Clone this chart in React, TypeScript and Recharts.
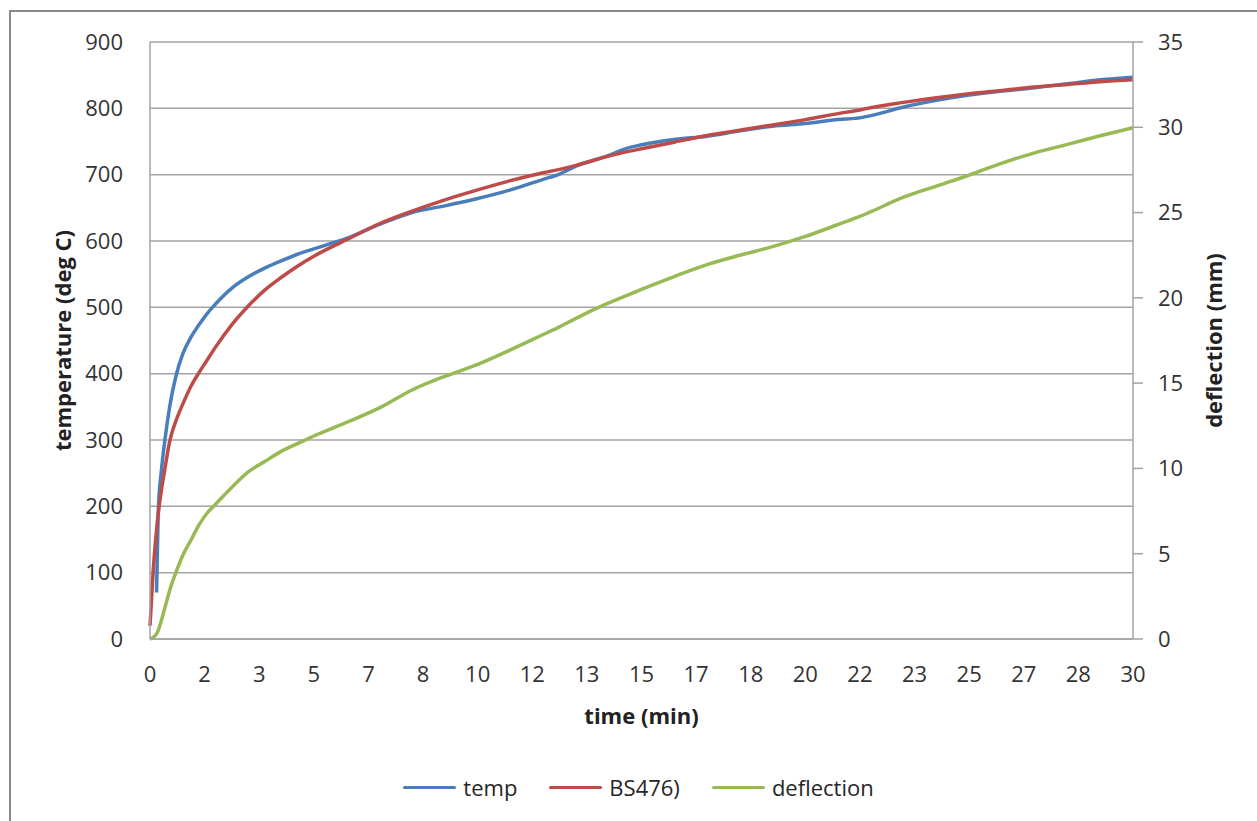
import { LineChart, Line, XAxis, YAxis, CartesianGrid, Legend } from "recharts";

// time in minutes
const timeMin = [0, 0.1, 0.2, 0.25, 0.35, 0.45, 0.6, 0.8, 1, 1.25, 1.5, 1.75, 2, 2.5, 3, 3.5, 4, 4.5, 5, 5.5, 6, 7, 8, 9, 10, 11, 12, 12.5, 13, 14, 14.5, 15, 16, 17, 18, 19, 20, 21, 21.7, 22, 23, 24, 25, 26, 27, 28, 29, 30];
const tempC = [null, null, 70, 190, 255, 298, 350, 398, 430, 455, 474, 491, 505, 529, 546, 559, 570, 580, 588, 596, 604, 625, 643, 653, 664, 677, 693, 701, 713, 729, 739, 745, 753, 758, 766, 773, 777, 783, 786, 789, 802, 812, 820, 826, 831, 837, 843, 847];
const bs476C = [20, 105, 165, 188, 225, 255, 298, 330, 354, 381, 402, 421, 440, 474, 502, 526, 545, 562, 577, 590, 602, 626, 645, 662, 677, 691, 703, 708, 714, 728, 734, 739, 749, 759, 767, 775, 783, 792, 798, 801, 809, 816, 822, 827, 832, 836, 840, 843];
const deflectionMm = [0, 0.1, 0.3, 0.5, 1.1, 1.8, 2.85, 3.95, 4.9, 5.8, 6.7, 7.4, 7.9, 8.9, 9.8, 10.4, 11.0, 11.45, 11.9, 12.3, 12.7, 13.55, 14.6, 15.4, 16.1, 16.95, 17.85, 18.3, 18.8, 19.7, 20.1, 20.5, 21.25, 21.95, 22.5, 23.0, 23.6, 24.3, 24.8, 25.05, 25.9, 26.55, 27.2, 27.9, 28.5, 29.0, 29.5, 29.97];

const xTicks = [0, 1.667, 3.333, 5, 6.667, 8.333, 10, 11.667, 13.333, 15, 16.667, 18.333, 20, 21.667, 23.333, 25, 26.667, 28.333, 30];
const leftTicks = [0, 100, 200, 300, 400, 500, 600, 700, 800, 900];
const rightTicks = [0, 5, 10, 15, 20, 25, 30, 35];
const legendOrder = ["temp", "BS476)", "deflection"];

const data = timeMin.map((t, i) => ({
  t,
  temp: tempC[i],
  bs476: bs476C[i],
  deflection: deflectionMm[i],
}));

const FONT = '"Open Sans", sans-serif';
const GRID = "#a3a3a3";

const renderLegend = (props: any) => {
  const items = [...(props.payload || [])].sort(
    (a: any, b: any) => legendOrder.indexOf(a.value) - legendOrder.indexOf(b.value)
  );
  return (
    <div style={{ display: "flex", justifyContent: "center", alignItems: "center", gap: 32, fontFamily: FONT, fontSize: 22, color: "#262626", lineHeight: "30px" }}>
      {items.map((p: any) => (
        <div key={p.value} style={{ display: "flex", alignItems: "center" }}>
          <span style={{ display: "inline-block", width: 53, height: 3, background: p.color, borderRadius: 2, marginRight: 7 }} />
          {p.value}
        </div>
      ))}
    </div>
  );
};

export default function App() {
  return (
    <div style={{ position: "absolute", left: 0, top: 0, width: 1257, height: 821, background: "#fff", overflow: "hidden" }}>
      <div style={{ position: "absolute", left: 9, top: 10, width: 1400, height: 1000, borderLeft: "2px solid #8a8a8a", borderTop: "2px solid #8a8a8a" }} />
      <LineChart
        width={1257}
        height={821}
        data={data}
        margin={{ top: 42, right: 64, left: 90, bottom: 122 }}
        style={{ position: "absolute", left: 0, top: 0, fontFamily: FONT }}
      >
        <CartesianGrid vertical={false} stroke={GRID} strokeWidth={1.5} yAxisId="left" />
        <XAxis
          dataKey="t"
          type="number"
          domain={[0, 30]}
          ticks={xTicks}
          tickFormatter={(v: number) => String(Math.round(v))}
          tickLine={false}
          axisLine={{ stroke: GRID, strokeWidth: 1.5 }}
          tick={{ fill: "#333", fontSize: 22 }}
          tickMargin={21}
          height={60}
          interval={0}
          label={{
            content: (p: any) => (
              <text x={p.viewBox.x + p.viewBox.width / 2} y={715} textAnchor="middle" dominantBaseline="central" fontWeight="bold" fontSize={22} fill="#222" fontFamily={FONT}>
                time (min)
              </text>
            ),
          }}
        />
        <YAxis
          yAxisId="left"
          domain={[0, 900]}
          ticks={leftTicks}
          tickLine={false}
          axisLine={{ stroke: GRID, strokeWidth: 1.5 }}
          tick={{ fill: "#333", fontSize: 22 }}
          tickMargin={21}
          width={60}
          interval={0}
          label={{
            content: (p: any) => {
              const cy = p.viewBox.y + p.viewBox.height / 2;
              return (
                <text x={62} y={cy} transform={`rotate(-90, 62, ${cy})`} textAnchor="middle" dominantBaseline="central" fontWeight="bold" fontSize={22} fill="#222" fontFamily={FONT}>
                  temperature (deg C)
                </text>
              );
            },
          }}
        />
        <YAxis
          yAxisId="right"
          orientation="right"
          domain={[0, 35]}
          ticks={rightTicks}
          tickSize={10}
          tickLine={{ stroke: GRID, strokeWidth: 1.5 }}
          axisLine={{ stroke: GRID, strokeWidth: 1.5 }}
          tick={{ fill: "#333", fontSize: 22 }}
          tickMargin={15}
          width={60}
          interval={0}
          label={{
            content: (p: any) => {
              const cy = p.viewBox.y + p.viewBox.height / 2;
              return (
                <text x={1213} y={cy} transform={`rotate(-90, 1213, ${cy})`} textAnchor="middle" dominantBaseline="central" fontWeight="bold" fontSize={22} fill="#222" fontFamily={FONT}>
                  deflection (mm)
                </text>
              );
            },
          }}
        />
        <Legend
          layout="horizontal"
          verticalAlign="middle"
          content={renderLegend}
          wrapperStyle={{ top: 772, left: 10, width: 1257 }}
        />
        <Line yAxisId="left" type="monotone" dataKey="temp" name="temp" stroke="#4a7ebb" strokeWidth={3.5} dot={false} isAnimationActive={false} />
        <Line yAxisId="left" type="monotone" dataKey="bs476" name="BS476)" stroke="#be4b48" strokeWidth={3.5} dot={false} isAnimationActive={false} />
        <Line yAxisId="right" type="monotone" dataKey="deflection" name="deflection" stroke="#98b954" strokeWidth={3.5} dot={false} isAnimationActive={false} />
      </LineChart>
    </div>
  );
}
